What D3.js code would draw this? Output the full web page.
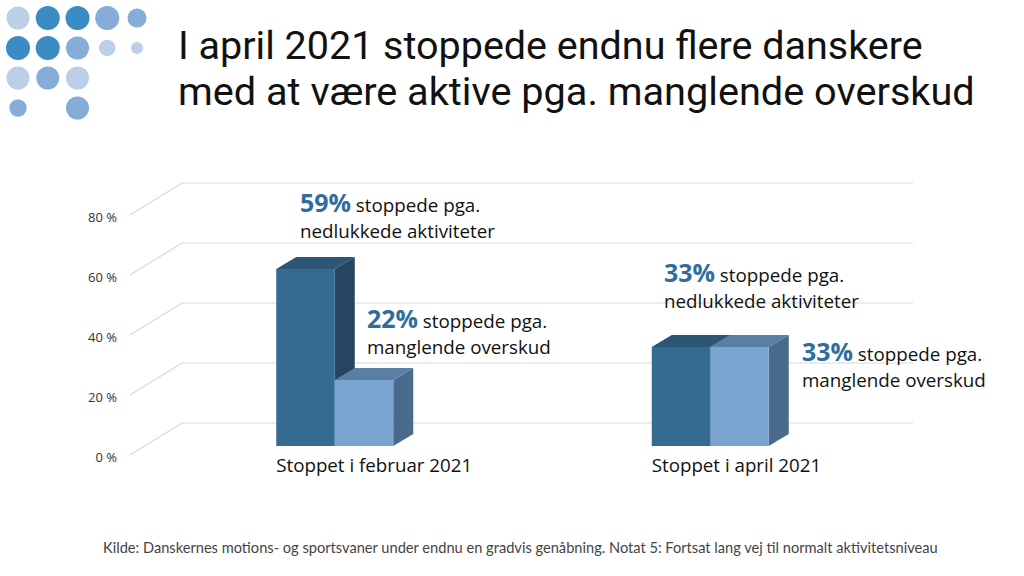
<!DOCTYPE html>
<html>
<head>
<meta charset="utf-8">
<script src="https://cdn.jsdelivr.net/npm/d3@7"></script>
<style>
  html, body { margin: 0; padding: 0; background: #fff; }
  svg { display: block; }
</style>
</head>
<body>
<svg id="chart" width="1024" height="576"></svg>
<script>
// ---- data ----
const categories = ["Stoppet i februar 2021", "Stoppet i april 2021"];
const seriesNames = ["nedlukkede aktiviteter", "manglende overskud"];
const closedValues = [59, 33];     // stoppede pga. nedlukkede aktiviteter
const deficitValues = [22, 33];    // stoppede pga. manglende overskud
const yTicks = [0, 20, 40, 60, 80];
const tickLabels = ["0 %", "20 %", "40 %", "60 %", "80 %"];
const titleLines = ["I april 2021 stoppede endnu flere danskere", "med at være aktive pga. manglende overskud"];
const sourceText = "Kilde: Danskernes motions- og sportsvaner under endnu en gradvis genåbning. Notat 5: Fortsat lang vej til normalt aktivitetsniveau";

// ---- layout / style ----
const svg = d3.select("#chart");

function fitWidth(el, baseSize, target) {
  el.attr("font-size", baseSize);
  const len = el.node().getComputedTextLength();
  const s = baseSize * target / len;
  el.attr("font-size", s);
  return s;
}

const colors = [
  { front: "#356a91", top: "#2c5576", side: "#274560" },
  { front: "#7ba5d0", top: "#5a7fa5", side: "#4a6a8b" }
];
const accent = "#2f6d9c";

// logo dots (decoration)
const dotColors = { a: "#bccfe8", b: "#3b8bc5", c: "#86add7" };
const dotRows = [
  [["a", 11.5], ["b", 12], ["b", 12], ["c", 12], ["c", 9.5]],
  [["b", 12], ["b", 12], ["c", 11.5], ["a", 8.3], ["a", 6]],
  [["a", 11.5], ["c", 11.5], ["a", 11.5], null, null],
  [["c", 8.7], null, ["c", 11.5], null, null]
];
const dotX = d3.scalePoint().domain(d3.range(5)).range([18, 137]);
const dotY = d3.scalePoint().domain(d3.range(4)).range([18, 108]);
const logo = svg.append("g");
dotRows.forEach((row, r) => row.forEach((d, c) => {
  if (!d) return;
  logo.append("circle").attr("cx", dotX(c)).attr("cy", dotY(r)).attr("r", d[1]).attr("fill", dotColors[d[0]]);
}));

// title
const titleFont = "Roboto, 'Noto Sans', sans-serif";
const titleTargets = [745, 797];
titleLines.forEach((t, i) => {
  const el = svg.append("text")
    .attr("x", 178).attr("y", 59 + i * 46)
    .attr("font-family", titleFont).attr("fill", "#111")
    .text(t);
  fitWidth(el, 31, titleTargets[i]);
});

// chart scales
const backBase = 423;
const y = d3.scaleLinear().domain([0, 80]).range([backBase, backBase - 240]);
const gridDX = 52, gridDY = 32;
const backLeft = 182, backRight = 913;

const x = d3.scaleBand().domain(categories).range([147, 898]);
const sub = d3.scaleBand().domain([0, 1]).range([-58.5, 58.5]);
const barBaseShift = 23;     // bars stand inside the floor depth
const depthX = 20, depthY = 12;

// gridlines
const grid = svg.append("g").attr("stroke", "#d9d9d9").attr("stroke-width", 1.2).attr("fill", "none");
yTicks.forEach(v => {
  grid.append("line").attr("x1", backLeft).attr("x2", backRight).attr("y1", y(v)).attr("y2", y(v));
  grid.append("line").attr("x1", backLeft - gridDX).attr("y1", y(v) + gridDY).attr("x2", backLeft).attr("y2", y(v));
});

// y tick labels
const tickFont = "'Open Sans', 'DejaVu Sans', sans-serif";
const tickG = svg.append("g");
const t80 = tickG.append("text").attr("font-family", tickFont).text(tickLabels[4]);
const tickSize = fitWidth(t80, 10, 29);
t80.remove();
tickG.selectAll("text").data(yTicks).join("text")
  .attr("x", 117).attr("y", v => y(v) + 34).attr("dy", "0.35em")
  .attr("text-anchor", "end")
  .attr("font-family", tickFont).attr("font-size", tickSize).attr("fill", "#333")
  .text((v, i) => tickLabels[i]);

// bars
const series = [closedValues, deficitValues];
const bars = [];
categories.forEach((cat, ci) => {
  series.forEach((vals, si) => {
    bars.push({ cat, ci, si, value: vals[ci] });
  });
});
const barG = svg.append("g");
bars.forEach(b => {
  const x0 = x(b.cat) + x.bandwidth() / 2 + sub(b.si);
  const x1 = x0 + sub.bandwidth();
  const yb = y(0) + barBaseShift;
  const yt = y(b.value) + barBaseShift;
  const c = colors[b.si];
  const g = barG.append("g");
  g.append("path").attr("fill", c.side)
    .attr("d", `M${x1},${yt}L${x1 + depthX},${yt - depthY}L${x1 + depthX},${yb - depthY}L${x1},${yb}Z`);
  g.append("path").attr("fill", c.top)
    .attr("d", `M${x0},${yt}L${x0 + depthX},${yt - depthY}L${x1 + depthX},${yt - depthY}L${x1},${yt}Z`);
  g.append("rect").attr("fill", c.front)
    .attr("x", x0).attr("y", yt).attr("width", x1 - x0).attr("height", yb - yt);
});

// category labels
const textFont = "'Open Sans', Lato, sans-serif";
const catG = svg.append("g");
const catTmp = catG.append("text").attr("font-family", textFont).text(categories[0]);
const catSize = fitWidth(catTmp, 16, 196);
catTmp.remove();
catG.selectAll("text").data(categories).join("text")
  .attr("x", d => x(d) + x.bandwidth() / 2 + sub(0))
  .attr("y", 472)
  .attr("font-family", textFont).attr("font-size", catSize).attr("fill", "#111")
  .text(d => d);

// annotations
const annoPos = [
  [[300, 212], [367, 328]],
  [[664, 282], [802, 361]]
];
// size the body text so "nedlukkede aktiviteter" spans ~195px, the bold number ~51px
const tmpBody = svg.append("text").attr("font-family", textFont).text(seriesNames[0]);
const bodySize = fitWidth(tmpBody, 16, 195);
tmpBody.remove();
const tmpNum = svg.append("text").attr("font-family", textFont).attr("font-weight", 700).text(closedValues[0] + "%");
const numSize = fitWidth(tmpNum, 22, 51);
tmpNum.remove();

bars.forEach(b => {
  const [ax, ay] = annoPos[b.ci][b.si];
  const t = svg.append("text").attr("x", ax).attr("y", ay)
    .attr("font-family", textFont).attr("fill", "#111");
  t.append("tspan").attr("font-weight", 700).attr("font-size", numSize).attr("fill", accent).text(b.value + "%");
  t.append("tspan").attr("font-size", bodySize).text(" stoppede pga.");
  svg.append("text").attr("x", ax).attr("y", ay + 25.5)
    .attr("font-family", textFont).attr("font-size", bodySize).attr("fill", "#111")
    .text(seriesNames[b.si]);
});

// source
const src = svg.append("text").attr("x", 103).attr("y", 553)
  .attr("font-family", "Lato, 'Open Sans', sans-serif").attr("fill", "#444")
  .text(sourceText);
fitWidth(src, 11, 835);
</script>
</body>
</html>
